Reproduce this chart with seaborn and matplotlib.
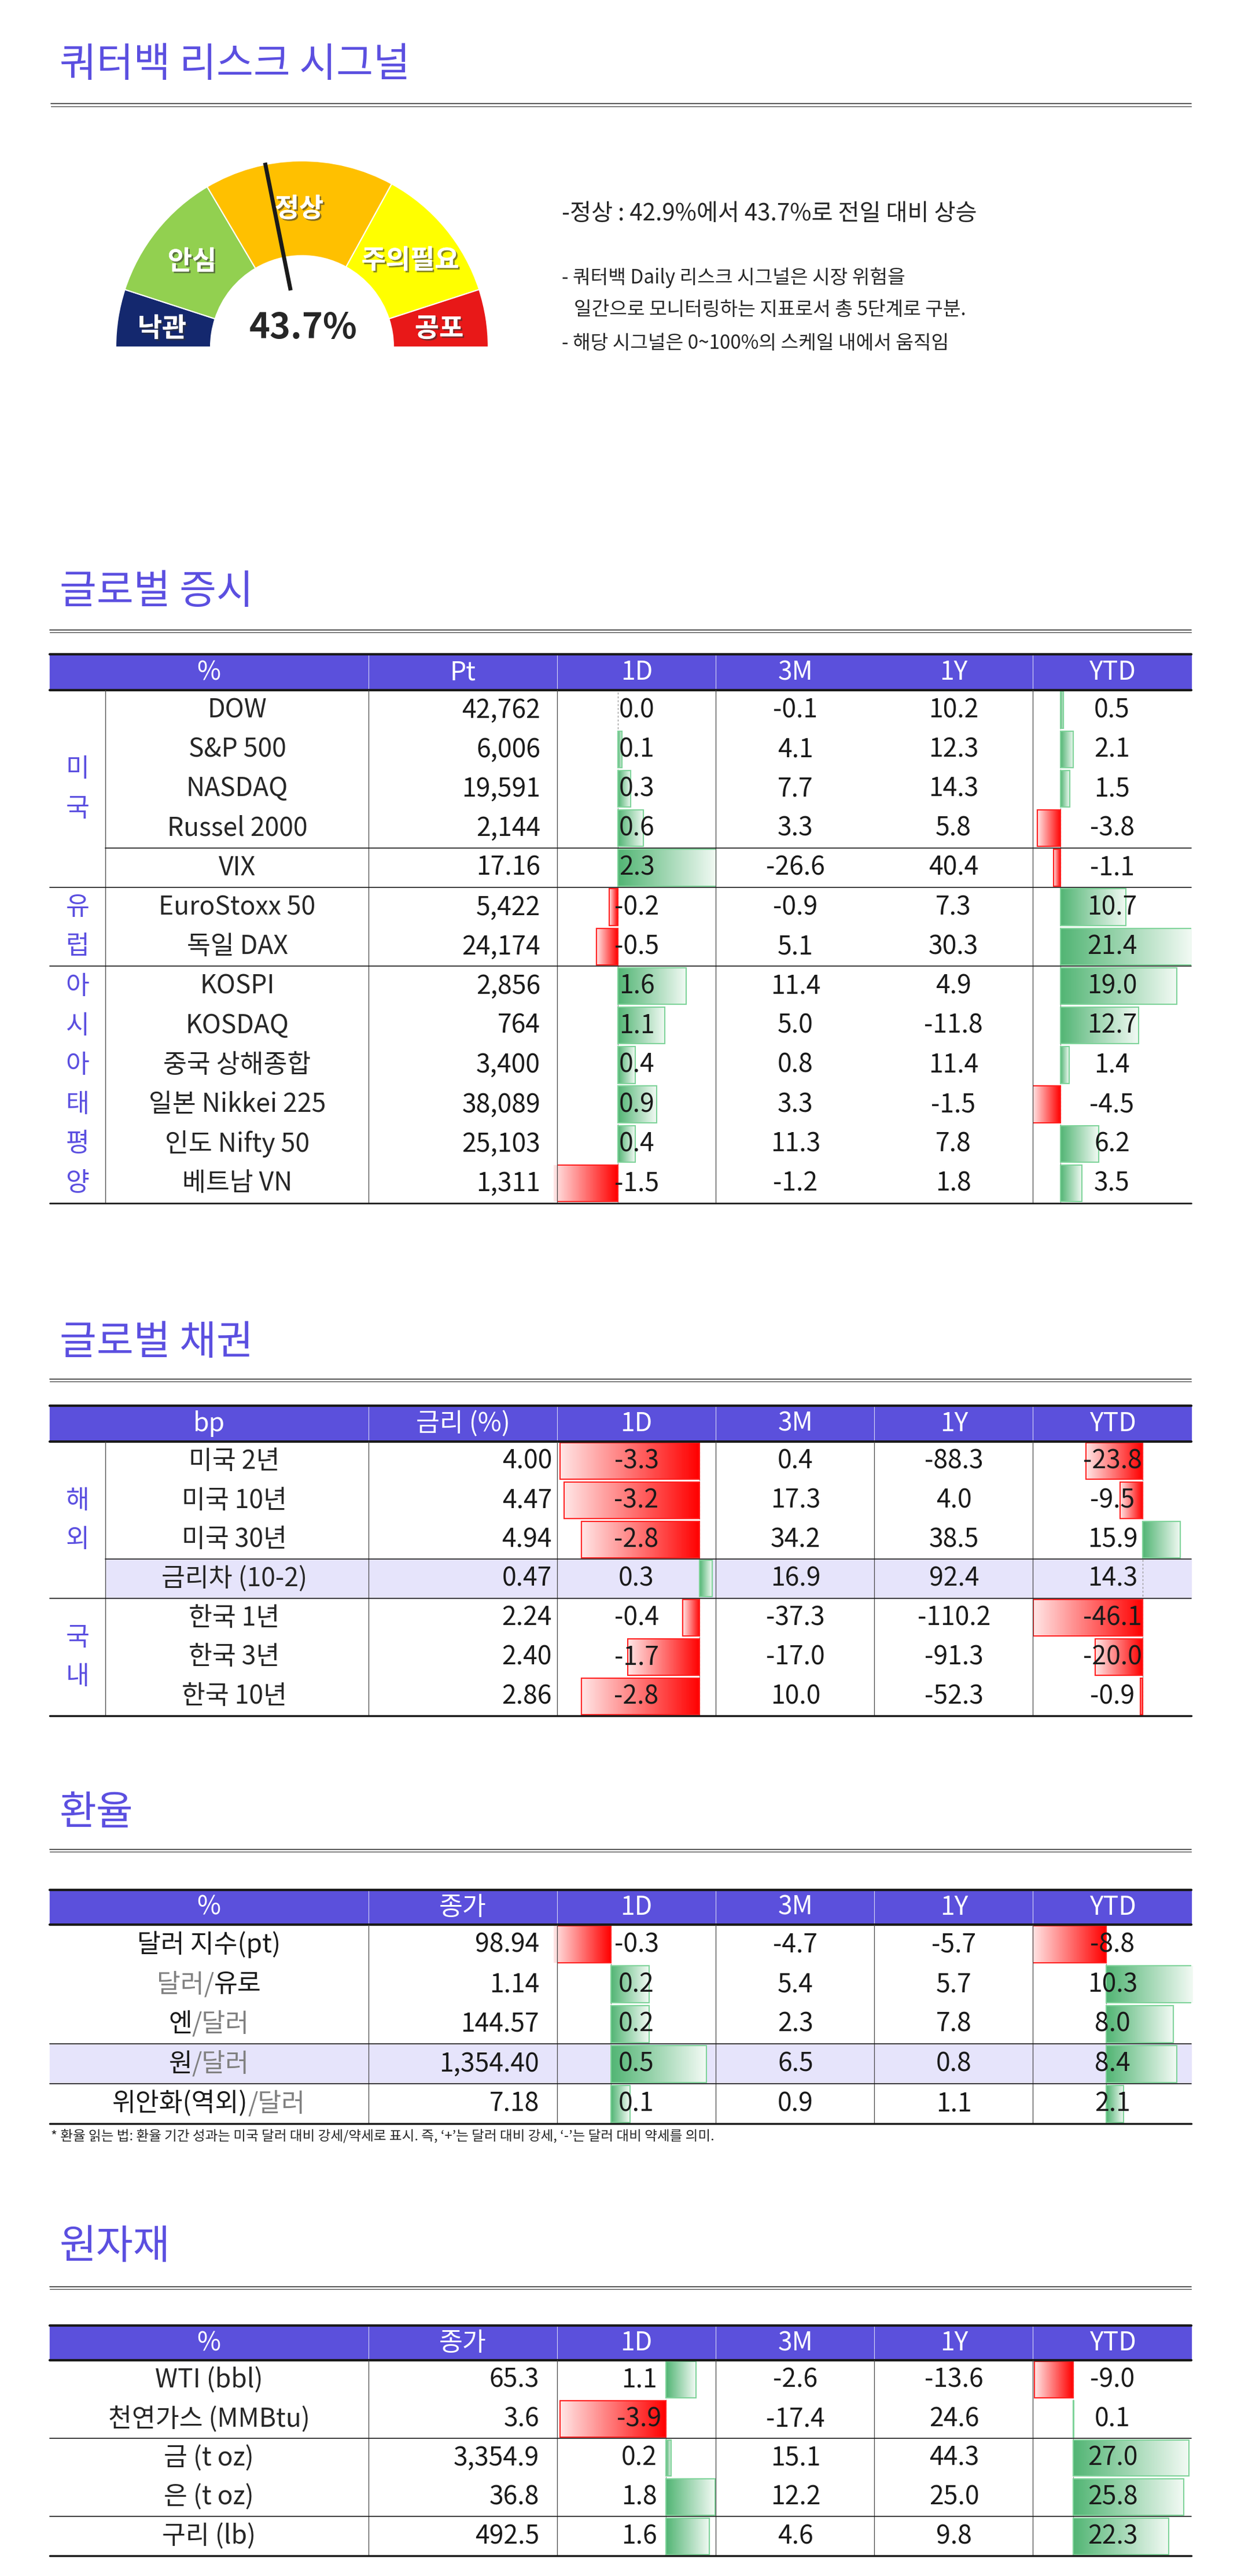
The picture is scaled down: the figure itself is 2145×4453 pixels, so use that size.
import numpy as np
import pandas as pd
import matplotlib
matplotlib.use("Agg")
import matplotlib.pyplot as plt
import matplotlib.patheffects as pe
from matplotlib.patches import Rectangle, Wedge
from matplotlib.colors import LinearSegmentedColormap
import seaborn as sns

sns.set_theme(style="white")
plt.rcParams["font.family"] = ["Noto Sans CJK JP", "Noto Sans CJK KR", "DejaVu Sans"]

# ---------------- data ----------------
gauge_labels = ["낙관", "안심", "정상", "주의필요", "공포"]
gauge_bounds = [0, 10, 33, 66, 90, 100]
gauge_colors = ["#14286e", "#92d050", "#ffc000", "#ffff00", "#e81818"]
gauge_value = 43.7
gauge_prev = 42.9

stk_groups = [("미국", 0, 5), ("유럽", 5, 7), ("아시아태평양", 7, 13)]
stk_names = ["DOW", "S&P 500", "NASDAQ", "Russel 2000", "VIX", "EuroStoxx 50", "독일 DAX",
             "KOSPI", "KOSDAQ", "중국 상해종합", "일본 Nikkei 225", "인도 Nifty 50", "베트남 VN"]
stk_pt = ["42,762", "6,006", "19,591", "2,144", "17.16", "5,422", "24,174", "2,856", "764",
          "3,400", "38,089", "25,103", "1,311"]
stk_1d = [0.0, 0.1, 0.3, 0.6, 2.3, -0.2, -0.5, 1.6, 1.1, 0.4, 0.9, 0.4, -1.5]
stk_3m = [-0.1, 4.1, 7.7, 3.3, -26.6, -0.9, 5.1, 11.4, 5.0, 0.8, 3.3, 11.3, -1.2]
stk_1y = [10.2, 12.3, 14.3, 5.8, 40.4, 7.3, 30.3, 4.9, -11.8, 11.4, -1.5, 7.8, 1.8]
stk_ytd = [0.5, 2.1, 1.5, -3.8, -1.1, 10.7, 21.4, 19.0, 12.7, 1.4, -4.5, 6.2, 3.5]

bnd_groups = [("해외", 0, 4), ("국내", 4, 7)]
bnd_names = ["미국 2년", "미국 10년", "미국 30년", "금리차 (10-2)", "한국 1년", "한국 3년", "한국 10년"]
bnd_rate = ["4.00", "4.47", "4.94", "0.47", "2.24", "2.40", "2.86"]
bnd_1d = [-3.3, -3.2, -2.8, 0.3, -0.4, -1.7, -2.8]
bnd_3m = [0.4, 17.3, 34.2, 16.9, -37.3, -17.0, 10.0]
bnd_1y = [-88.3, 4.0, 38.5, 92.4, -110.2, -91.3, -52.3]
bnd_ytd = [-23.8, -9.5, 15.9, 14.3, -46.1, -20.0, -0.9]

fx_names = [[("달러 지수(pt)", "k")], [("달러/", "g"), ("유로", "k")], [("엔", "k"), ("/달러", "g")],
            [("원", "k"), ("/달러", "g")], [("위안화(역외)", "k"), ("/달러", "g")]]
fx_close = ["98.94", "1.14", "144.57", "1,354.40", "7.18"]
fx_1d = [-0.3, 0.2, 0.2, 0.5, 0.1]
fx_3m = [-4.7, 5.4, 2.3, 6.5, 0.9]
fx_1y = [-5.7, 5.7, 7.8, 0.8, 1.1]
fx_ytd = [-8.8, 10.3, 8.0, 8.4, 2.1]

cm_names = ["WTI (bbl)", "천연가스 (MMBtu)", "금 (t oz)", "은 (t oz)", "구리 (lb)"]
cm_close = ["65.3", "3.6", "3,354.9", "36.8", "492.5"]
cm_1d = [1.1, -3.9, 0.2, 1.8, 1.6]
cm_3m = [-2.6, -17.4, 15.1, 12.2, 4.6]
cm_1y = [-13.6, 24.6, 44.3, 25.0, 9.8]
cm_ytd = [-9.0, 0.1, 27.0, 25.8, 22.3]

# ---------------- layout ----------------
W, H = 2145, 4453
fig = plt.figure(figsize=(W / 100, H / 100), dpi=100)
bg = fig.add_axes([0, 0, 1, 1], zorder=0)
bg.set_xlim(0, W); bg.set_ylim(H, 0); bg.axis("off")
ax = fig.add_axes([0, 0, 1, 1], zorder=2)
ax.set_xlim(0, W)
ax.set_ylim(H, 0)
ax.axis("off")
ax.patch.set_alpha(0)

PURPLE = "#5b4fe0"
HEAD = "#5b50dc"
LAV = "#e6e4fb"
L, R = 86, 2059
FS = 32


def rect(x0, y0, x1, y1):
    return [x0 / W, 1 - y1 / H, (x1 - x0) / W, (y1 - y0) / H]


def section_title(text, y, yline):
    ax.text(103, y, text, fontsize=50, color=PURPLE, va="center", ha="left")
    ax.plot([L, R], [yline - 2, yline - 2], color="#333333", lw=1.2)
    ax.plot([L, R], [yline + 2, yline + 2], color="#333333", lw=0.8)


green_cmap = LinearSegmentedColormap.from_list("g", ["#52b574", "#f2faf4"])
red_cmap = LinearSegmentedColormap.from_list("r", ["#ffe6e6", "#ff0000"])


def bar_col(vals, zero, scale, colL, colR, top, rowh, skip=()):
    n = len(vals)
    axb = fig.add_axes(rect(colL, top, colR, top + n * rowh), zorder=1)
    v = [0.0 if i in skip else vals[i] for i in range(n)]
    df = pd.DataFrame({"row": [str(i) for i in range(n)], "v": v})
    sns.barplot(data=df, x="v", y="row", orient="h", ax=axb, color="white",
                width=0.93, errorbar=None, order=df["row"])
    xl = ((colL - zero) / scale, (colR - zero) / scale)
    for p, val in zip(axb.patches, v):
        if val == 0:
            p.set_visible(False)
            continue
        x0 = p.get_x(); w = p.get_width(); y0 = p.get_y(); h = p.get_height()
        xa, xb = min(x0, x0 + w), max(x0, x0 + w)
        pos = val > 0
        p.set_facecolor("none")
        p.set_edgecolor("#7fd39a" if pos else "#ff2020")
        p.set_linewidth(1.5)
        p.set_zorder(3)
        grad = np.linspace(0, 1, 256).reshape(1, -1)
        im = axb.imshow(grad, extent=[xa, xb, y0 + h, y0], aspect="auto",
                        cmap=green_cmap if pos else red_cmap, zorder=2, interpolation="bilinear")
        im.set_clip_path(p)
    axb.axvline(0, color="#888888", lw=0.8, ls=(0, (3, 3)), zorder=1)
    axb.set_xlim(*xl)
    axb.set_ylim(n - 0.5, -0.5)
    axb.axis("off")
    axb.patch.set_alpha(0)


def header(top, bot, labels, centers, divs):
    ax.add_patch(Rectangle((L, top), R - L, bot - top, color=HEAD, zorder=1))
    for d in divs:
        ax.plot([d, d], [top, bot], color="#d8d8f5", lw=0.8, zorder=2)
    for lab, c in zip(labels, centers):
        ax.text(c, (top + bot) / 2, lab, color="white", fontsize=FS, ha="center", va="center", zorder=3)
    ax.plot([L, R], [top, top], color="k", lw=3, zorder=4)
    ax.plot([L, R], [bot, bot], color="k", lw=3, zorder=4)


def fmt(v):
    return f"{v:.1f}"


def body_vals(top, rowh, cols):
    for x, vals, ha in cols:
        for i, v in enumerate(vals):
            s = v if isinstance(v, str) else fmt(v)
            ax.text(x, top + (i + 0.5) * rowh, s, fontsize=FS, ha=ha, va="center", color="k", zorder=6)


def vlines(xs, top, bot):
    for x in xs:
        ax.plot([x, x], [top, bot], color="#444444", lw=0.9, zorder=5)


def hline(y, x0=L, lw=1.2):
    ax.plot([x0, R], [y, y], color="k", lw=lw, zorder=5)


def group_labels(groups, top, rowh):
    for name, a, b in groups:
        n = len(name)
        c = (a + b) / 2
        if n >= b - a:
            pos = [a + 0.5 + k for k in range(n)]
        else:
            pos = [c - n / 2 + 0.5 + k for k in range(n)]
        for ch, p in zip(name, pos):
            ax.text(134, top + p * rowh, ch, fontsize=FS, color=PURPLE, ha="center", va="center", zorder=6)


# ---------------- gauge ----------------
ax.text(103, 112, "쿼터백 리스크 시그널", fontsize=50, color=PURPLE, va="center", ha="left")
ax.plot([88, R], [179, 179], color="#333333", lw=1.2)
ax.plot([88, R], [184, 184], color="#333333", lw=0.8)

gc = (522, 600)
R_OUT, R_IN = 322, 158
for i, col in enumerate(gauge_colors):
    a1 = 180 - gauge_bounds[i] * 1.8
    a2 = 180 - gauge_bounds[i + 1] * 1.8
    ax.add_patch(Wedge(gc, R_OUT, -a1, -a2, width=R_OUT - R_IN, facecolor=col,
                       edgecolor="white", lw=1.5, zorder=2))
ang = np.deg2rad(180 - gauge_value * 1.8)
ax.plot([gc[0] + 100 * np.cos(ang), gc[0] + 325 * np.cos(ang)],
        [gc[1] - 100 * np.sin(ang), gc[1] - 325 * np.sin(ang)], color="k", lw=5, zorder=4,
        solid_capstyle="butt")
shadow = [pe.withSimplePatchShadow(offset=(2, -2), shadow_rgbFace="#333333", alpha=0.6), pe.Normal()]
label_pos = [(280, 569), (332, 453), (517, 362), (709, 451), (759, 569)]
for lab, (x, y) in zip(gauge_labels, label_pos):
    ax.text(x, y, lab, fontsize=33, color="white", fontweight="bold", ha="center", va="center",
            path_effects=shadow, zorder=5)
ax.text(524, 567, f"{gauge_value}%", fontsize=44, fontweight="bold", ha="center", va="center", zorder=5)

ax.text(971, 370, f"-정상 : {gauge_prev}%에서 {gauge_value}%로 전일 대비 상승", fontsize=29,
        ha="left", va="center")
ax.text(971, 480, "- 쿼터백 Daily 리스크 시그널은 시장 위험을", fontsize=24, ha="left", va="center")
ax.text(992, 536, "일간으로 모니터링하는 지표로서 총 5단계로 구분.", fontsize=24, ha="left", va="center")
ax.text(971, 594, "- 해당 시그널은 0~100%의 스케일 내에서 움직임", fontsize=24, ha="left", va="center")

# ---------------- stocks ----------------
section_title("글로벌 증시", 1023, 1091)
top, rowh = 1193, 68.2
n = len(stk_names)
bot = top + n * rowh
header(1131, top, ["%", "Pt", "1D", "3M", "1Y", "YTD"], [361, 800, 1101, 1375, 1648, 1922],
       [637, 963, 1237, 1785])
bar_col(stk_1d, 1068, 74, 963, 1237, top, rowh)
bar_col(stk_ytd, 1833, 10.6, 1785, R, top, rowh)
for i, nm in enumerate(stk_names):
    ax.text(410, top + (i + 0.5) * rowh, nm, fontsize=FS, ha="center", va="center", zorder=6)
body_vals(top, rowh, [(934, stk_pt, "right"), (1101, stk_1d, "center"), (1375, stk_3m, "center"),
                      (1648, stk_1y, "center"), (1922, stk_ytd, "center")])
group_labels(stk_groups, top, rowh)
vlines([182, 637, 963, 1237, 1785], top, bot)
hline(top + 4 * rowh, 182)
hline(top + 5 * rowh)
hline(top + 7 * rowh)
hline(bot, lw=2)

# ---------------- bonds ----------------
section_title("글로벌 채권", 2321, 2386)
top, rowh = 2492, 67.7
n = len(bnd_names)
bot = top + n * rowh
bg.add_patch(Rectangle((182, top + 3 * rowh), R - 182, rowh, color=LAV, zorder=0.5))
header(2430, top, ["bp", "금리 (%)", "1D", "3M", "1Y", "YTD"], [361, 800, 1100, 1375, 1649, 1923],
       [637, 963, 1237, 1511, 1785])
bar_col(bnd_1d, 1209, 73, 963, 1237, top, rowh)
bar_col(bnd_ytd, 1975, 4.1, 1785, R, top, rowh, skip=(3,))
for i, nm in enumerate(bnd_names):
    ax.text(405, top + (i + 0.5) * rowh, nm, fontsize=FS, ha="center", va="center", zorder=6)
body_vals(top, rowh, [(954, bnd_rate, "right"), (1100, bnd_1d, "center"), (1375, bnd_3m, "center"),
                      (1649, bnd_1y, "center"), (1923, bnd_ytd, "center")])
group_labels(bnd_groups, top, rowh)
vlines([182, 637, 963, 1237, 1511, 1785], top, bot)
hline(top + 3 * rowh, 182)
hline(top + 4 * rowh)
hline(bot, lw=2.5)

# ---------------- FX ----------------
section_title("환율", 3134, 3199)
top, rowh = 3327, 68.8
n = len(fx_close)
bot = top + n * rowh
bg.add_patch(Rectangle((L, top + 3 * rowh), R - L, rowh, color=LAV, zorder=0.5))
header(3267, top, ["%", "종가", "1D", "3M", "1Y", "YTD"], [361, 800, 1100, 1375, 1649, 1923],
       [637, 963, 1237, 1511, 1785])
bar_col(fx_1d, 1056, 330, 963, 1237, top, rowh)
bar_col(fx_ytd, 1912, 14.5, 1785, R, top, rowh)
renderer = fig.canvas.get_renderer()
for i, segs in enumerate(fx_names):
    y = top + (i + 0.5) * rowh
    texts = []
    for s, c in segs:
        t = ax.text(0, y, s, fontsize=FS, ha="left", va="center", zorder=6,
                    color="k" if c == "k" else "#808080")
        texts.append(t)
    widths = [t.get_window_extent(renderer).width for t in texts]
    x = 361 - sum(widths) / 2
    for t, w in zip(texts, widths):
        t.set_x(x)
        x += w
body_vals(top, rowh, [(932, fx_close, "right"), (1100, fx_1d, "center"), (1375, fx_3m, "center"),
                      (1649, fx_1y, "center"), (1923, fx_ytd, "center")])
vlines([637, 963, 1237, 1511, 1785], top, bot)
hline(top + 3 * rowh)
hline(top + 4 * rowh)
hline(bot, lw=2.5)
ax.text(88, 3693, "* 환율 읽는 법: 환율 기간 성과는 미국 달러 대비 강세/약세로 표시. 즉, ‘+’는 달러 대비 강세, ‘-’는 달러 대비 약세를 의미.",
        fontsize=17, ha="left", va="center")

# ---------------- commodities ----------------
section_title("원자재", 3884, 3955)
top, rowh = 4080, 67.6
n = len(cm_names)
bot = top + n * rowh
header(4020, top, ["%", "종가", "1D", "3M", "1Y", "YTD"], [361, 800, 1100, 1375, 1649, 1923],
       [637, 963, 1237, 1511, 1785])
bar_col(cm_1d, 1151, 47, 963, 1237, top, rowh)
bar_col(cm_ytd, 1855, 7.4, 1785, R, top, rowh)
for i, nm in enumerate(cm_names):
    ax.text(361, top + (i + 0.5) * rowh, nm, fontsize=FS, ha="center", va="center", zorder=6)
body_vals(top, rowh, [(932, cm_close, "right"), (1105, cm_1d, "center"), (1375, cm_3m, "center"),
                      (1649, cm_1y, "center"), (1923, cm_ytd, "center")])
vlines([637, 963, 1237, 1511, 1785], top, bot)
hline(top + 2 * rowh)
hline(top + 4 * rowh)
hline(bot, lw=2.5)

fig.savefig("out.png", dpi=100, facecolor="white")
